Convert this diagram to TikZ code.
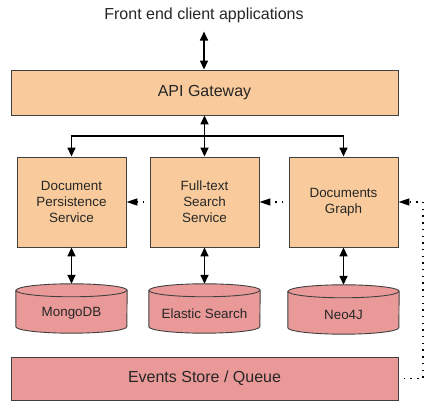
\documentclass[tikz,border=0pt]{standalone}
\usepackage{fontspec}
\setmainfont{Liberation Sans}
\usetikzlibrary{arrows.meta,backgrounds,calc}
\definecolor{boxorange}{HTML}{F9CB9C}
\definecolor{boxpink}{HTML}{EA9999}
\definecolor{edgegray}{HTML}{404040}
\definecolor{txt}{HTML}{262626}
\tikzset{
  svc/.style={draw=edgegray, line width=0.9pt, fill=boxorange, minimum width=109pt, minimum height=90pt, align=center, text=txt, font=\fontsize{13.4}{16}\selectfont, inner sep=0pt},
  wide/.style={draw=edgegray, line width=0.9pt, minimum width=387pt, text=txt, font=\fontsize{16}{19}\selectfont, inner sep=0pt},
  db/.style={minimum width=111pt, minimum height=49pt, inner sep=0pt},
  dblabel/.style={text=txt, font=\fontsize{13.4}{16}\selectfont, inner sep=0pt, yshift=-5pt},
  dbline/.style={draw=edgegray, line width=0.9pt, fill=boxpink},
  biarrow/.style={line width=1.6pt, {Triangle[length=9pt,width=8pt]}-{Triangle[length=9pt,width=8pt]}},
  onearrow/.style={line width=1.6pt, -{Triangle[length=9pt,width=8pt]}},
  dotarrow/.style={line width=1.4pt, dash pattern=on 1.4pt off 5.3pt, dash phase=1.4pt, -{Triangle[length=11pt,width=7pt]}},
}
\newcommand\dbcyl[1]{%
  \draw[dbline] ([yshift=-6.5pt]#1.north west) -- ([yshift=6.5pt]#1.south west)
    arc[start angle=180,end angle=360,x radius=55.5pt,y radius=6.5pt]
    -- ([yshift=-6.5pt]#1.north east)
    arc[start angle=0,end angle=180,x radius=55.5pt,y radius=6.5pt] -- cycle;
  \draw[draw=edgegray, line width=0.9pt] ([yshift=-6.5pt]#1.north west)
    arc[start angle=180,end angle=360,x radius=55.5pt,y radius=6.5pt];}
\begin{document}
\begin{tikzpicture}[x=1pt,y=1pt]
\useasboundingbox (0,0) rectangle (439,414);
\node[anchor=base, text=txt, font=\fontsize{16}{19}\selectfont, inner sep=0pt] (title) at (204,394) {Front end client applications};
\node[wide, fill=boxorange, minimum height=45pt] (api) at (204.5,321.5) {API Gateway};
\node[svc] (s1) at (71.5,212) {Document\\Persistence\\Service};
\node[svc] (s2) at (204.5,212) {Full-text\\Search\\Service};
\node[svc] (s3) at (343.5,212) {Documents\\Graph};
\begin{scope}[on background layer]
\end{scope}
\node[db] (c1) at (71.5,105.5) {};
\node[db] (c2) at (204.5,105.5) {};
\node[db] (c3) at (343.5,104.5) {};
\dbcyl{c1}\dbcyl{c2}\dbcyl{c3}
\node[dblabel] (l1) at (c1.center) {MongoDB};
\node[dblabel] (l2) at (c2.center) {Elastic Search};
\node[dblabel] (l3) at (c3.center) {Neo4J};
\node[wide, fill=boxpink, minimum height=43pt] (ev) at (204.5,35.5) {Events Store / Queue};
\coordinate (hub) at (204.5,278);
\coordinate (turn) at (423,35.5);
% connectors
\draw[biarrow, shorten <=8pt] (title.south) -- (title.south |- api.north);
\draw[biarrow] (api.south) -- (s2.north);
\draw[onearrow] (hub) -| (s1.north);
\draw[onearrow] (hub) -| (s3.north);
\draw[biarrow] (s1.south) -- (c1.north);
\draw[biarrow] (s2.south) -- (c2.north);
\draw[biarrow] (s3.south) -- (c3.north);
\draw[dotarrow] (s2.west) -- (s1.east);
\draw[dotarrow] (s3.west) -- (s2.east);
\draw[dotarrow] (ev.east) -- (turn) |- (s3.east);
\end{tikzpicture}
\end{document}
